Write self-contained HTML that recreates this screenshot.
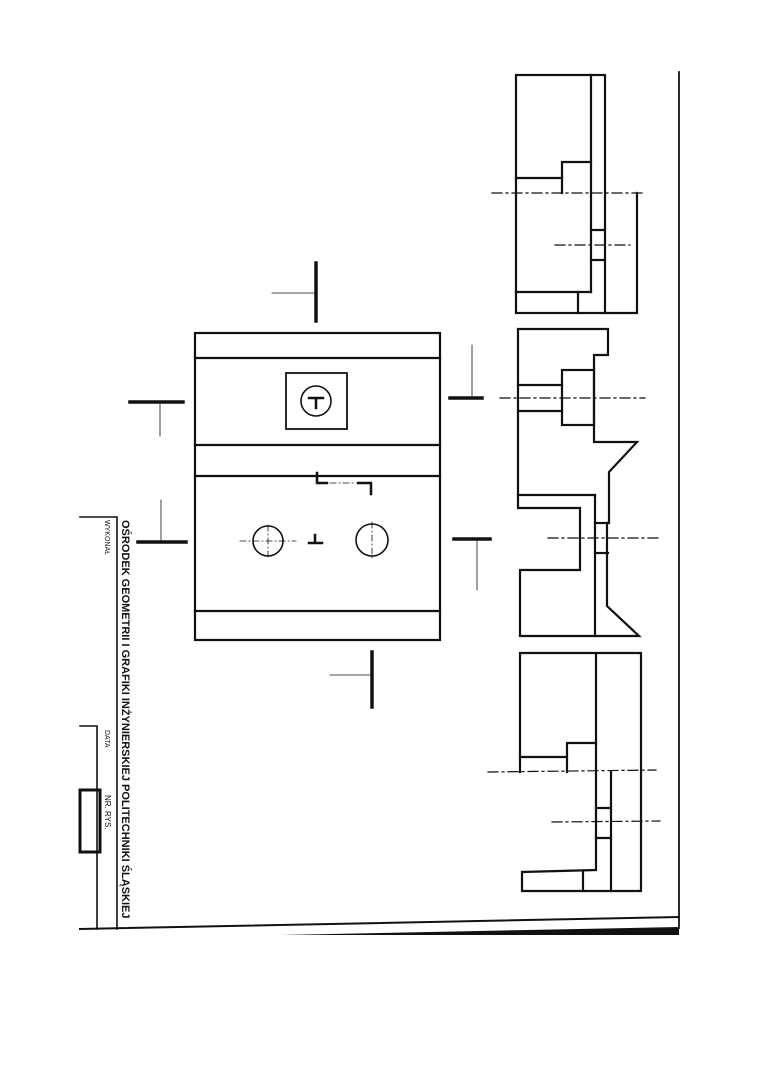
<!DOCTYPE html>
<html><head><meta charset="utf-8"><style>
html,body{margin:0;padding:0;background:#fff;}
svg{display:block;}
text{font-family:"Liberation Sans",sans-serif;fill:#111;}
</style></head><body>
<svg width="760" height="1075" viewBox="0 0 760 1075" xmlns="http://www.w3.org/2000/svg">
<g fill="none" stroke="#111" stroke-width="2.2" stroke-linecap="square">
<line x1="679" y1="72" x2="679" y2="928" stroke-width="1.8"/>
<polyline points="80,929 679,917" stroke-width="2"/>
<polygon points="280,935 679,927 679,935" fill="#111" stroke="none"/>
<polyline points="80,517 117,517 117,929" stroke-width="1.6"/>
<polyline points="80,726 97,726 97,929" stroke-width="1.6"/>
<rect x="80" y="790" width="20" height="62" stroke-width="3"/>

<rect x="195" y="333" width="245" height="307"/>
<line x1="195" y1="358" x2="440" y2="358"/>
<line x1="195" y1="445" x2="440" y2="445"/>
<line x1="195" y1="476" x2="440" y2="476"/>
<line x1="195" y1="611" x2="440" y2="611"/>
<rect x="286" y="373" width="61" height="56" stroke-width="1.8"/>
<circle cx="316" cy="401" r="15" stroke-width="1.6"/>
<path d="M309 398 H323 M316 398 V408" stroke-width="2.5"/>
<circle cx="268" cy="541" r="15" stroke-width="1.6"/>
<circle cx="372" cy="540" r="16" stroke-width="1.6"/>
<path d="M309 543 H322 M315 543 V535" stroke-width="2.5"/>
<path d="M317 473 V483 H327" stroke-width="2.5"/>
<path d="M358 483 H371 V494" stroke-width="2.5"/>
<g stroke-width="0.8" stroke-dasharray="6,3,1,3">
<line x1="240" y1="541" x2="296" y2="541"/>
<line x1="268" y1="525" x2="268" y2="557"/>
<line x1="372" y1="522" x2="372" y2="558"/>
<line x1="330" y1="483" x2="356" y2="483"/>
</g>
<line x1="316" y1="263" x2="316" y2="321" stroke-width="3.5"/>
<line x1="272" y1="293" x2="314" y2="293" stroke-width="0.8"/>
<line x1="372" y1="652" x2="372" y2="707" stroke-width="3.5"/>
<line x1="330" y1="675" x2="370" y2="675" stroke-width="0.8"/>
<line x1="130" y1="402" x2="183" y2="402" stroke-width="3.5"/>
<line x1="160" y1="404" x2="160" y2="436" stroke-width="0.8"/>
<line x1="138" y1="542" x2="186" y2="542" stroke-width="3.5"/>
<line x1="161" y1="500" x2="161" y2="540" stroke-width="0.8"/>
<line x1="450" y1="398" x2="482" y2="398" stroke-width="3.5"/>
<line x1="472" y1="345" x2="472" y2="396" stroke-width="0.8"/>
<line x1="454" y1="539" x2="490" y2="539" stroke-width="3.5"/>
<line x1="477" y1="541" x2="477" y2="590" stroke-width="0.8"/>

<rect x="516" y="75" width="89" height="238"/>
<line x1="591" y1="75" x2="591" y2="292"/>
<polyline points="591,162 562,162 562,193"/>
<line x1="516" y1="178" x2="562" y2="178"/>
<line x1="516" y1="292" x2="591" y2="292"/>
<line x1="578" y1="292" x2="578" y2="313"/>
<line x1="591" y1="230" x2="605" y2="230"/>
<line x1="591" y1="260" x2="605" y2="260"/>
<polyline points="605,313 637,313 637,193"/>

<polyline points="518,508 518,329 608,329 608,355 594,355 594,442 637,442 609,472 609,523 607,523 607,606 639,636 520,636 520,570 580,570 580,508 518,508"/>
<line x1="518" y1="495" x2="595" y2="495"/>
<line x1="595" y1="495" x2="595" y2="636"/>
<line x1="595" y1="523" x2="608" y2="523"/>
<line x1="595" y1="553" x2="608" y2="553"/>
<rect x="562" y="370" width="32" height="55"/>
<line x1="518" y1="385" x2="562" y2="385"/>
<line x1="518" y1="411" x2="562" y2="411"/>

<polyline points="520,772 520,653 641,653 641,891 522,891 522,872 596,870 596,653"/>
<polyline points="596,743 567,743 567,772"/>
<line x1="520" y1="757" x2="567" y2="757"/>
<line x1="583" y1="872" x2="583" y2="891"/>
<line x1="611" y1="772" x2="611" y2="891"/>
<line x1="596" y1="808" x2="611" y2="808"/>
<line x1="596" y1="838" x2="611" y2="838"/>

<g stroke-width="1.2" stroke-dasharray="10,4,2,4">
<line x1="492" y1="193" x2="645" y2="193"/>
<line x1="555" y1="245" x2="630" y2="245"/>
<line x1="500" y1="398" x2="645" y2="398"/>
<line x1="548" y1="538" x2="660" y2="538"/>
<line x1="488" y1="772" x2="656" y2="770"/>
<line x1="552" y1="822" x2="660" y2="821"/>
</g>
</g>
<text transform="translate(122,520) rotate(90)" font-size="11" font-weight="bold">OŚRODEK GEOMETRII I GRAFIKI INŻYNIERSKIEJ POLITECHNIKI ŚLĄSKIEJ</text>
<text transform="translate(105,520) rotate(90)" font-size="7">WYKONAŁ</text>
<text transform="translate(105,730) rotate(90)" font-size="7">DATA</text>
<text transform="translate(105,795) rotate(90)" font-size="8">NR. RYS.</text>
</svg>
</body></html>
